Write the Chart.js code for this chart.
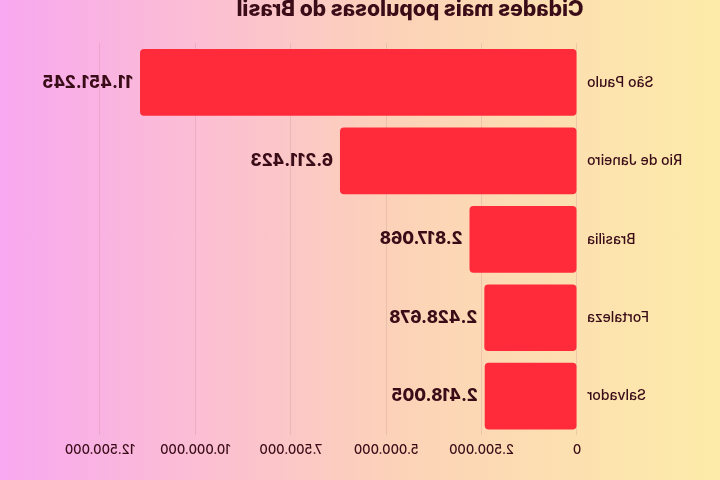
<!DOCTYPE html>
<html>
<head>
<meta charset="utf-8">
<script src="https://cdn.jsdelivr.net/npm/chart.js@4"></script>
<style>
  html, body { margin: 0; padding: 0; width: 720px; height: 480px; overflow: hidden; }
  #espelho {
    position: absolute; left: 0; top: -16px; width: 720px; height: 496px;
    background: linear-gradient(to right, #fdeca9 0%, #fcd2b8 45%, #fbbcd6 75%, #f8a8f0 100%);
    transform: scaleX(-1);
  }
</style>
</head>
<body>
<div id="espelho"><canvas id="grafico" width="720" height="496"></canvas></div>
<script>
const cidades = ["São Paulo", "Rio de Janeiro", "Brasília", "Fortaleza", "Salvador"]
const populacao = [11451245, 6211423, 2817068, 2428678, 2418005]
const eixoMax = 12500000
const eixoPasso = 2500000

const corTexto = "#3a0c18"
const fonte = "Inter, Roboto, sans-serif"

const formata = (v) => v.toLocaleString("pt-BR")

// rotulo de valor no fim de cada barra
const rotulos = {
    id: "rotulos",
    afterDatasetsDraw(chart) {
        const ctx = chart.ctx
        const meta = chart.getDatasetMeta(0)
        ctx.save()
        ctx.font = "800 17px " + fonte
        ctx.fillStyle = corTexto
        ctx.textBaseline = "middle"
        ctx.textAlign = "left"
        meta.data.forEach((barra, i) => {
            ctx.fillText(formata(populacao[i]), barra.x + 7, barra.y)
        })
        ctx.restore()
    }
}

const config = {
    type: "bar",
    data: {
        labels: cidades,
        datasets: [{
            data: populacao,
            backgroundColor: "#ff2b3b",
            borderRadius: 4,
            borderSkipped: false,
            categoryPercentage: 1,
            barPercentage: 0.85
        }]
    },
    options: {
        indexAxis: "y",
        responsive: false,
        animation: false,
        layout: { padding: { left: 0, right: 100, top: 0, bottom: 15 } },
        plugins: {
            legend: { display: false },
            tooltip: { enabled: false },
            title: {
                display: true,
                text: "Cidades mais populosas do Brasil",
                color: corTexto,
                font: { family: fonte, size: 21, weight: "800" },
                padding: { top: 13, bottom: 21 }
            }
        },
        scales: {
            x: {
                min: 0,
                max: eixoMax,
                ticks: {
                    stepSize: eixoPasso,
                    color: corTexto,
                    font: { family: fonte, size: 13, weight: "500" },
                    padding: 7,
                    maxRotation: 0,
                    callback: (v) => formata(v)
                },
                grid: { color: "rgba(190,120,130,0.22)", drawTicks: false },
                border: { display: false }
            },
            y: {
                ticks: {
                    color: corTexto,
                    font: { family: fonte, size: 14, weight: "500" },
                    padding: 2
                },
                grid: { display: false },
                border: { display: false },
                afterFit: (scale) => { scale.width = 143 }
            }
        }
    },
    plugins: [rotulos]
}

new Chart(document.getElementById("grafico"), config)
</script>
</body>
</html>
